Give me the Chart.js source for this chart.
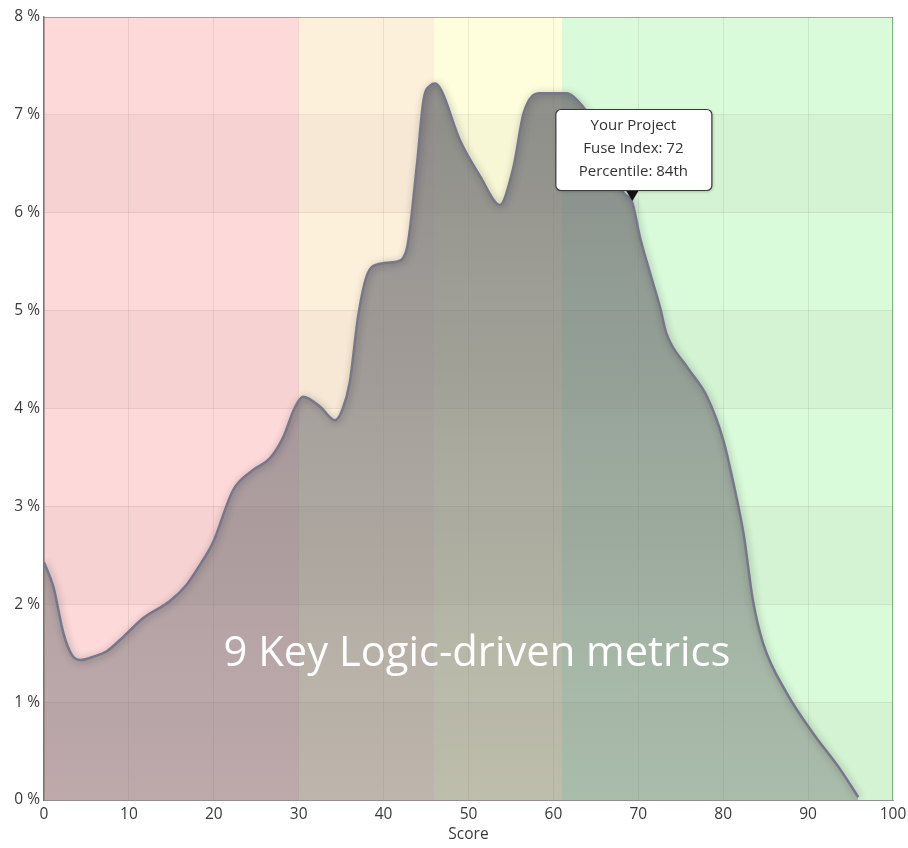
<!DOCTYPE html>
<html>
<head>
<meta charset="utf-8">
<script src="https://cdn.jsdelivr.net/npm/chart.js@4"></script>
<style>
  html, body { margin: 0; padding: 0; background: #ffffff; }
  #wrap { width: 908px; height: 848px; }
</style>
</head>
<body>
<div id="wrap"><canvas id="grafico" width="908" height="848"></canvas></div>
<script>
// Distribution curve: score (x) and share of projects in % (y)
var scores = [0, 1.1, 2.3, 3.3, 4.3, 6, 7.4, 9.5, 11.7, 14.8, 16.8, 18.5, 19.9, 22.3, 24.6, 26.6, 28.2, 29.5, 30.5, 32.5,
  34.3, 35.2, 36, 37, 38, 39.2, 41.5, 42.7, 43.9, 44.7, 45.5, 46.1, 46.8, 49, 51.4, 53.7, 55.3, 56.5, 58.4, 61.6,
  62.8, 64.5, 66.5, 68.2, 69.3, 70.2, 71.4, 72.6, 73.3, 75.7, 78.1, 80, 81.2, 82.4, 83.5, 84.7, 87.5, 90.6, 93.8, 95.9];
var shares = [2.43, 2.18, 1.70, 1.48, 1.43, 1.47, 1.52, 1.68, 1.86, 2.03, 2.20, 2.42, 2.63, 3.17, 3.37, 3.49, 3.71, 4.0, 4.12, 4.02,
  3.88, 4.0, 4.26, 4.94, 5.35, 5.47, 5.50, 5.62, 6.47, 7.15, 7.3, 7.32, 7.25, 6.74, 6.37, 6.08, 6.47, 7.02, 7.22, 7.22,
  7.15, 6.95, 6.55, 6.21, 6.10, 5.75, 5.38, 5.02, 4.77, 4.43, 4.12, 3.68, 3.24, 2.72, 2.04, 1.60, 1.09, 0.68, 0.31, 0.03];

// Score zones (background bands)
var zoneStart = [0, 30, 46, 61];
var zoneEnd = [30, 46, 61, 100];
var zoneColor = ['#fdd9d9', '#fdf0db', '#fefedc', '#d9fbd9'];

// Axis ticks
var xTicks = [0, 10, 20, 30, 40, 50, 60, 70, 80, 90, 100];
var yTicks = [0, 1, 2, 3, 4, 5, 6, 7, 8];

// Marker for the project
var projectScore = 69.3;
var projectShare = 6.12;
var projectLines = ['Your Project', 'Fuse Index: 72', 'Percentile: 84th'];

var overlayText = '9 Key Logic-driven metrics';

var points = scores.map(function (s, i) { return { x: s, y: shares[i] }; });

// Zones + alternating darker rows behind the grid
var fundoZonas = {
  id: 'fundoZonas',
  beforeDraw: function (chart) {
    var ctx = chart.ctx, a = chart.chartArea;
    var sx = chart.scales.x, sy = chart.scales.y;
    ctx.save();
    for (var i = 0; i < zoneStart.length; i++) {
      var x0 = sx.getPixelForValue(zoneStart[i]);
      var x1 = sx.getPixelForValue(zoneEnd[i]);
      ctx.fillStyle = zoneColor[i];
      ctx.fillRect(x0, a.top, x1 - x0, a.bottom - a.top);
    }
    ctx.fillStyle = 'rgba(90,60,60,0.045)';
    for (var k = 0; k < yTicks.length - 1; k += 2) {
      var yb = sy.getPixelForValue(yTicks[k]);
      var yt = sy.getPixelForValue(yTicks[k + 1]);
      ctx.fillRect(a.left, yt, a.right - a.left, yb - yt);
    }
    ctx.restore();
  },
  afterDraw: function (chart) {
    var ctx = chart.ctx, a = chart.chartArea;
    ctx.save();
    ctx.lineWidth = 1;
    ctx.strokeStyle = 'rgba(110,90,90,0.45)';
    ctx.beginPath();
    ctx.moveTo(a.left, a.top + 0.5);
    ctx.lineTo(a.right, a.top + 0.5);
    ctx.stroke();
    ctx.strokeStyle = 'rgba(70,120,70,0.55)';
    ctx.beginPath();
    ctx.moveTo(a.right - 0.5, a.top);
    ctx.lineTo(a.right - 0.5, a.bottom);
    ctx.stroke();
    ctx.restore();
  }
};

// Soft shadow around the curve
var sombra = {
  id: 'sombra',
  beforeDatasetDraw: function (chart) {
    var ctx = chart.ctx;
    ctx.save();
    ctx.shadowColor = 'rgba(40,40,50,0.45)';
    ctx.shadowBlur = 7;
    ctx.shadowOffsetX = 1;
    ctx.shadowOffsetY = 1;
  },
  afterDatasetDraw: function (chart) {
    chart.ctx.restore();
  }
};

// Big white caption + project callout
var textos = {
  id: 'textos',
  afterDraw: function (chart) {
    var ctx = chart.ctx;
    var sx = chart.scales.x, sy = chart.scales.y;
    ctx.save();
    // caption
    var size = 40;
    ctx.font = size + 'px "Open Sans"';
    var w = ctx.measureText(overlayText).width;
    size = size * 507 / w;
    ctx.font = size + 'px "Open Sans"';
    ctx.fillStyle = '#ffffff';
    ctx.textAlign = 'center';
    ctx.textBaseline = 'middle';
    ctx.fillText(overlayText, sx.getPixelForValue(51), 654);

    // callout
    var px = sx.getPixelForValue(projectScore);
    var py = sy.getPixelForValue(projectShare);
    var bw = 156, bh = 81, r = 5;
    var bx = px - bw / 2 + 1, by = py - 11 - bh;
    ctx.shadowColor = 'rgba(0,0,0,0.25)';
    ctx.shadowBlur = 3;
    ctx.shadowOffsetX = 1;
    ctx.shadowOffsetY = 1;
    ctx.beginPath();
    ctx.roundRect(bx + 0.5, by + 0.5, bw, bh, r);
    ctx.fillStyle = '#ffffff';
    ctx.fill();
    ctx.shadowColor = 'transparent';
    ctx.lineWidth = 1.2;
    ctx.strokeStyle = '#3a3a3a';
    ctx.stroke();
    ctx.beginPath();
    ctx.moveTo(px - 6, by + bh + 1);
    ctx.lineTo(px + 6, by + bh + 1);
    ctx.lineTo(px, py);
    ctx.closePath();
    ctx.fillStyle = '#111111';
    ctx.fill();
    ctx.font = '15px "Open Sans"';
    ctx.fillStyle = '#333333';
    for (var i = 0; i < projectLines.length; i++) {
      ctx.fillText(projectLines[i], bx + bw / 2, by + 17 + i * 23);
    }
    ctx.restore();
  }
};

var ctx = document.getElementById('grafico').getContext('2d');

var grafico = new Chart(ctx, {
  type: 'line',
  data: {
    datasets: [{
      data: points,
      borderColor: '#77778a',
      borderWidth: 2.5,
      pointRadius: 0,
      cubicInterpolationMode: 'monotone',
      fill: 'origin',
      backgroundColor: function (context) {
        var area = context.chart.chartArea;
        if (!area) return 'rgba(110,110,118,0.6)';
        var g = context.chart.ctx.createLinearGradient(0, area.top, 0, area.bottom);
        g.addColorStop(0, 'rgba(112,112,116,0.82)');
        g.addColorStop(1, 'rgba(112,112,116,0.42)');
        return g;
      }
    }]
  },
  options: {
    responsive: false,
    animation: false,
    layout: { padding: { top: 17, right: 15, left: 0, bottom: 0 } },
    plugins: {
      legend: { display: false },
      tooltip: { enabled: false }
    },
    scales: {
      x: {
        type: 'linear',
        min: 0,
        max: 100,
        afterBuildTicks: function (scale) {
          scale.ticks = xTicks.map(function (v) { return { value: v }; });
        },
        afterFit: function (scale) {
          scale.height = 48;
          scale.paddingRight = 0;
          scale.paddingLeft = 0;
        },
        grid: { color: 'rgba(60,40,40,0.09)', drawTicks: false },
        border: { color: 'rgba(90,80,80,0.6)', width: 1 },
        ticks: { padding: 5, color: '#3a3a3a', font: { family: 'Open Sans', size: 15.5 }, maxRotation: 0 },
        title: { display: true, text: 'Score', color: '#3a3a3a', padding: { top: 0 }, font: { family: 'Open Sans', size: 15.5 } }
      },
      y: {
        min: 0,
        max: 8,
        afterBuildTicks: function (scale) {
          scale.ticks = yTicks.map(function (v) { return { value: v }; });
        },
        afterFit: function (scale) { scale.width = 44; },
        grid: { color: 'rgba(60,40,40,0.09)', drawTicks: false },
        border: { color: '#8f6d6d', width: 1.5 },
        ticks: {
          padding: 4,
          color: '#3a3a3a',
          font: { family: 'Open Sans', size: 15.5 },
          callback: function (v) { return v + ' %'; }
        }
      }
    }
  },
  plugins: [fundoZonas, sombra, textos]
});
</script>
</body>
</html>
